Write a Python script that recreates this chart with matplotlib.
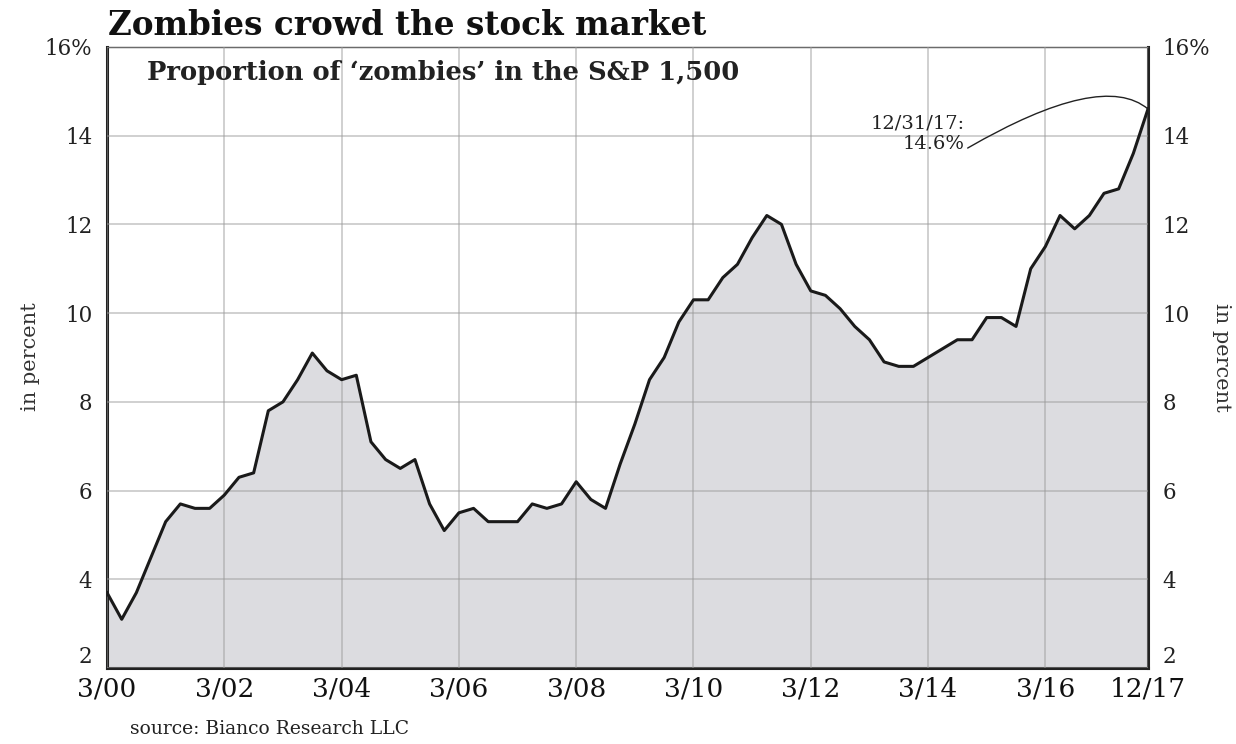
import matplotlib

matplotlib.use("Agg")
import matplotlib.pyplot as plt
import numpy as np

# quarterly share of zombie companies, 3/00 .. 12/17
zombie_pct = [
    3.7, 3.1, 3.7, 4.5, 5.3, 5.7, 5.6, 5.6,
    5.9, 6.3, 6.4, 7.8, 8.0, 8.5, 9.1, 8.7,
    8.5, 8.6, 7.1, 6.7, 6.5, 6.7, 5.7, 5.1,
    5.5, 5.6, 5.3, 5.3, 5.3, 5.7, 5.6, 5.7,
    6.2, 5.8, 5.6, 6.6, 7.5, 8.5, 9.0, 9.8,
    10.3, 10.3, 10.8, 11.1, 11.7, 12.2, 12.0, 11.1,
    10.5, 10.4, 10.1, 9.7, 9.4, 8.9, 8.8, 8.8,
    9.0, 9.2, 9.4, 9.4, 9.9, 9.9, 9.7, 11.0,
    11.5, 12.2, 11.9, 12.2, 12.7, 12.8, 13.6, 14.6,
]
x_tick_pos = [0, 8, 16, 24, 32, 40, 48, 56, 64, 71]
x_tick_labels = ["3/00", "3/02", "3/04", "3/06", "3/08", "3/10", "3/12", "3/14", "3/16", "12/17"]
y_ticks = [2, 4, 6, 8, 10, 12, 14, 16]
y_tick_labels = ["2", "4", "6", "8", "10", "12", "14", "16%"]

plt.rcParams["font.family"] = ["DejaVu Serif"]

quarters = np.arange(len(zombie_pct))

fig = plt.figure(figsize=(12.36, 7.44), dpi=100)
ax = fig.add_axes([0.0866, 0.102, 0.8422, 0.835])

ax.fill_between(quarters, 2, zombie_pct, color="#dcdce0", zorder=1, linewidth=0)
ax.plot(quarters, zombie_pct, color="#1a1a1a", linewidth=2.2, zorder=3)

ax.set_xlim(0, len(zombie_pct) - 1)
ax.set_ylim(2, 16)
ax.set_xticks(x_tick_pos)
ax.set_xticklabels(x_tick_labels, fontsize=19)
ax.set_yticks(y_ticks)
ax.set_yticklabels(y_tick_labels, fontsize=15.5)
ax.tick_params(axis="y", which="both", left=False, right=False,
               labelleft=True, labelright=True, pad=7, colors="#222222")
ax.tick_params(axis="x", length=0, pad=6, colors="#111111")
# the "2" labels sit just above the bottom spine
for tick in ax.yaxis.get_major_ticks()[:1]:
    tick.label1.set_verticalalignment("bottom")
    tick.label2.set_verticalalignment("bottom")
ax.grid(True, color="#9a9a9a", alpha=0.5, linewidth=1.3, zorder=2)
ax.set_axisbelow(False)

for side in ("left", "bottom", "right"):
    ax.spines[side].set_linewidth(2.2)
    ax.spines[side].set_color("#222222")
ax.spines["top"].set_linewidth(1.0)
ax.spines["top"].set_color("#444444")

fig.text(0.025, 0.52, "in percent", fontsize=15, color="#333333", rotation=90,
         ha="center", va="center")
fig.text(0.988, 0.52, "in percent", fontsize=15, color="#333333", rotation=270,
         ha="center", va="center")

ax.text(0.038, 0.947, "Proportion of \u2018zombies\u2019 in the S&P 1,500",
        transform=ax.transAxes, fontsize=18.5, fontweight="bold", va="baseline", ha="left",
        color="#222222")

ax.text(58.5, 14.05, "12/31/17:\n14.6%", fontsize=14, ha="right", va="center",
        multialignment="right", color="#222222", linespacing=1.2)
ax.annotate("", xy=(quarters[-1], zombie_pct[-1]), xytext=(58.7, 13.72),
            arrowprops=dict(arrowstyle="-", color="#222222", linewidth=1.0,
                            connectionstyle="angle3,angleA=30,angleB=140",
                            shrinkA=0, shrinkB=0))

fig.text(0.087, 0.953, "Zombies crowd the stock market", fontsize=23.5, fontweight="bold",
         ha="left", va="baseline", color="#111111")
fig.text(0.105, 0.008, "source: Bianco Research LLC", fontsize=13.5, ha="left",
         va="bottom", color="#222222")

fig.savefig("out.png", dpi=100)
